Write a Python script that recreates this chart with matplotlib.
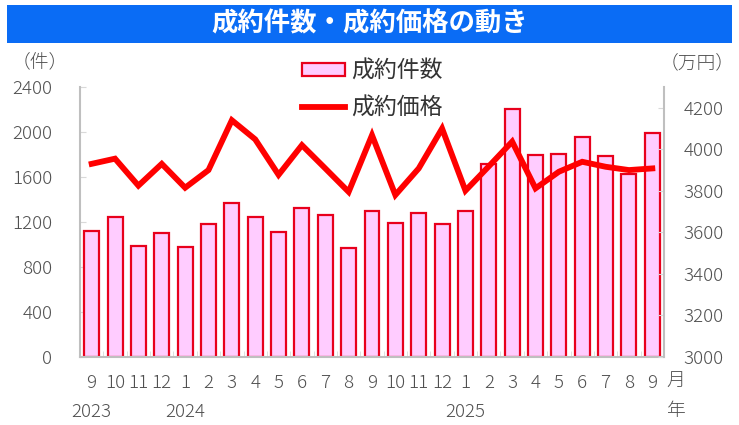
import matplotlib
matplotlib.use("Agg")
import matplotlib.pyplot as plt
from matplotlib.patches import Rectangle
import numpy as np

plt.rcParams['font.family'] = ['Noto Sans CJK JP', 'DejaVu Sans']

months = ["9", "10", "11", "12", "1", "2", "3", "4", "5", "6", "7", "8",
          "9", "10", "11", "12", "1", "2", "3", "4", "5", "6", "7", "8", "9"]
years = {0: "2023", 4: "2024", 16: "2025"}
counts = [1120, 1245, 985, 1105, 980, 1185, 1365, 1245, 1110, 1325, 1262, 965,
          1300, 1195, 1283, 1185, 1300, 1712, 2205, 1798, 1805, 1958, 1790, 1630, 1995]
prices = [3930, 3955, 3825, 3930, 3815, 3900, 4140, 4048, 3877, 4020, 3908, 3795,
          4068, 3780, 3908, 4100, 3801, 3918, 4037, 3812, 3892, 3940, 3916, 3900, 3908]

title = "成約件数・成約価格の動き"
bar_label = "成約件数"
line_label = "成約価格"

W, H = 739, 425
fig = plt.figure(figsize=(W / 100, H / 100), dpi=100)

# title banner
fig.patches.append(Rectangle((7 / W, 1 - 43 / H), (732 - 7) / W, 38 / H,
                             transform=fig.transFigure, facecolor='#0a6cf5',
                             edgecolor='none', zorder=0))
fig.text(370 / W, 1 - 24 / H, title, color='white', fontsize=19,
         fontweight='bold', ha='center', va='center')

ax = fig.add_axes([80 / W, 1 - 357 / H, (664 - 80) / W, (357 - 87) / H])
ax2 = ax.twinx()

x = np.arange(len(counts))
gray_txt = '#505050'
spine_c = '#bfbfbf'
fs = 13.5
fw = 300

bars = ax.bar(x, counts, width=0.64, color='#ffccff', edgecolor='#e8001c',
              linewidth=1.6, label=bar_label, zorder=2)
line, = ax2.plot(x, prices, color='#ff0000', linewidth=4.2, label=line_label,
                 solid_joinstyle='miter', zorder=3)

ax.set_xlim(-0.5, len(counts) - 0.5)
ax.set_ylim(0, 2400)
ax.set_yticks(np.arange(0, 2401, 400))
ax2.set_ylim(3000, 4300)
ax2.set_yticks(np.arange(3000, 4201, 200))

for a in (ax, ax2):
    for s in a.spines.values():
        s.set_visible(False)
ax.spines['left'].set_visible(True)
ax.spines['bottom'].set_visible(True)
ax2.spines['right'].set_visible(True)
for s in (ax.spines['left'], ax.spines['bottom'], ax2.spines['right']):
    s.set_color(spine_c)
    s.set_linewidth(1.5)

ax.tick_params(axis='y', direction='in', length=4, color='#d9d9d9',
               labelsize=fs, labelcolor=gray_txt, pad=20)
ax2.tick_params(axis='y', direction='in', length=4, color='#d9d9d9',
                labelsize=fs, labelcolor=gray_txt, pad=14)

ax.set_xticks(x)
ax.set_xticklabels(months)
ax.set_xticks(np.arange(-0.5, len(counts), 1), minor=True)
ax.tick_params(axis='x', which='major', length=0, labelsize=fs,
               labelcolor=gray_txt, pad=12)
ax.tick_params(axis='x', which='minor', direction='in', length=4,
               color='#d9d9d9')
for lab in ax.get_xticklabels() + ax.get_yticklabels() + ax2.get_yticklabels():
    lab.set_fontweight(fw)

xt = ax.get_xaxis_transform()
for i, yr in years.items():
    ax.text(i, -0.205, yr, transform=xt, ha='center', va='center',
            fontsize=fs, color=gray_txt, fontweight=fw)
fig.text(676 / W, 1 - 382 / H, "月", ha='center', va='center',
         fontsize=fs, color=gray_txt, fontweight=fw)
fig.text(676 / W, 1 - 411 / H, "年", ha='center', va='center',
         fontsize=fs, color=gray_txt, fontweight=fw)

fig.text(40 / W, 1 - 62 / H, "（件）", ha='center', va='center',
         fontsize=fs, color=gray_txt, fontweight=fw)
fig.text(697 / W, 1 - 63 / H, "（万円）", ha='center', va='center',
         fontsize=fs, color=gray_txt, fontweight=fw)

leg = ax2.legend([bars, line], [bar_label, line_label], loc='upper left',
                 bbox_to_anchor=(281 / W, 1 - 39 / H),
                 bbox_transform=fig.transFigure, frameon=False,
                 fontsize=16.5, handlelength=1.9, handleheight=0.5,
                 handletextpad=0.25, labelspacing=0.62, labelcolor='#333333')

fig.savefig("out.png", dpi=100)
